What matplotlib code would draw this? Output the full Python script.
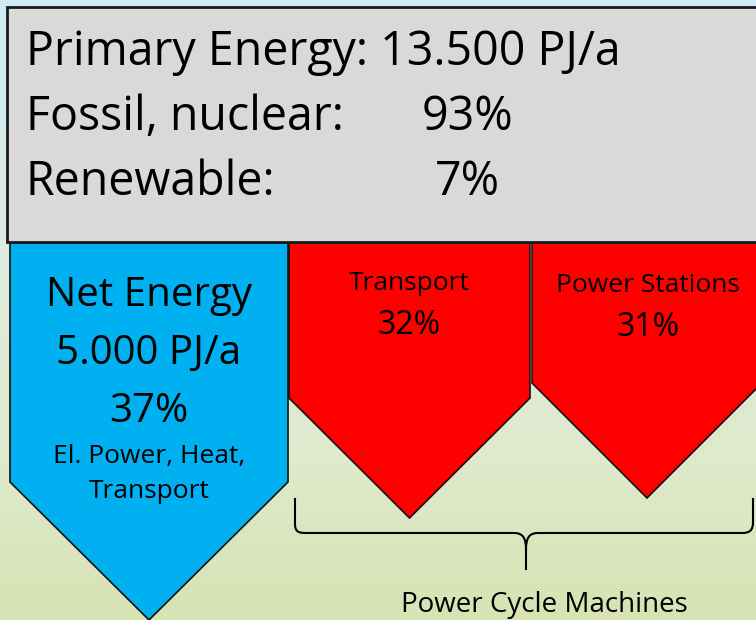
import numpy as np
import matplotlib.pyplot as plt
from matplotlib.patches import Polygon, Rectangle, PathPatch
from matplotlib.path import Path
from matplotlib.colors import LinearSegmentedColormap

plt.rcParams['font.family'] = ['Open Sans', 'DejaVu Sans']

# text content
header_labels = ['Primary Energy: 13.500 PJ/a', 'Fossil, nuclear:', 'Renewable:']
header_values = ['', '93%', '7%']
net_lines = ['Net Energy', '5.000 PJ/a', '37%']
net_sub = ['El. Power, Heat,', 'Transport']
loss_names = ['Transport', 'Power Stations']
loss_shares = ['32%', '31%']
brace_label = 'Power Cycle Machines'

W, H = 756, 620
fig = plt.figure(figsize=(W / 100, H / 100), dpi=100)
ax = fig.add_axes([0, 0, 1, 1])
ax.set_xlim(0, W)
ax.set_ylim(H, 0)
ax.axis('off')

# background gradient
bg = LinearSegmentedColormap.from_list('bg', [(0, '#cdeaf6'), (0.45, '#dfecdc'), (0.75, '#dfe9cb'), (1, '#d7e3b3')])
grad = np.linspace(0, 1, 256).reshape(-1, 1)
ax.imshow(grad, cmap=bg, extent=[0, W, H, 0], aspect='auto', zorder=0)

# gray box
ax.add_patch(Rectangle((7, 7), 760, 235, facecolor='#d9d9d9', edgecolor='#1a1a1a', lw=2, zorder=2))

# arrows
ax.add_patch(Polygon([(10, 243), (288, 243), (288, 482), (149, 620), (10, 482)],
                     facecolor='#00b0f0', edgecolor='#111111', lw=1.2, zorder=1))
ax.add_patch(Polygon([(289, 243), (530, 243), (530, 398), (409.5, 518), (289, 398)],
                     facecolor='#ff0000', edgecolor='#111111', lw=1.2, zorder=1))
ax.add_patch(Polygon([(532, 243), (762, 243), (762, 383), (647, 498), (532, 383)],
                     facecolor='#ff0000', edgecolor='#111111', lw=1.2, zorder=1))
ax.plot([531, 531], [243, 383], color='#444444', lw=1.5, zorder=1)

# header text
fs_h = 33.5
for i, (lab, val) in enumerate(zip(header_labels, header_values)):
    y = 52 + i * 65
    ax.text(26, y, lab, fontsize=fs_h, va='center', ha='left', zorder=3)
    if val:
        ax.text(467, y, val, fontsize=fs_h, va='center', ha='center', zorder=3)

# net energy text
for i, s in enumerate(net_lines):
    ax.text(149, 296 + i * 58, s, fontsize=29, ha='center', va='center', zorder=3)
for i, s in enumerate(net_sub):
    ax.text(149, 457 + i * 34, s, fontsize=19, ha='center', va='center', zorder=3)

# losses text
for cx, cy, name, share in zip([409, 648], [284, 286], loss_names, loss_shares):
    ax.text(cx, cy, name, fontsize=19, ha='center', va='center', zorder=3)
    ax.text(cx, cy + 42, share, fontsize=23, ha='center', va='center', zorder=3)

# brace
verts = [(295, 498), (295, 524), (295, 533), (300, 533), (308, 533),
         (514, 533),
         (523, 533), (526, 538), (526, 550),
         (526, 570)]
codes = [Path.MOVETO, Path.LINETO, Path.CURVE4, Path.CURVE4, Path.CURVE4,
         Path.LINETO, Path.CURVE4, Path.CURVE4, Path.CURVE4, Path.LINETO]
ax.add_patch(PathPatch(Path(verts, codes), fill=False, lw=1.5, edgecolor='black', zorder=3))
verts2 = [(526, 550), (526, 538), (529, 533), (538, 533),
          (742, 533),
          (750, 533), (753, 530), (753, 522),
          (753, 498)]
codes2 = [Path.MOVETO, Path.CURVE4, Path.CURVE4, Path.CURVE4, Path.LINETO,
          Path.CURVE4, Path.CURVE4, Path.CURVE4, Path.LINETO]
ax.add_patch(PathPatch(Path(verts2, codes2), fill=False, lw=1.5, edgecolor='black', zorder=3))
ax.text(544, 605, brace_label, fontsize=20, ha='center', va='center', zorder=3)

fig.savefig('out.png', dpi=100)
